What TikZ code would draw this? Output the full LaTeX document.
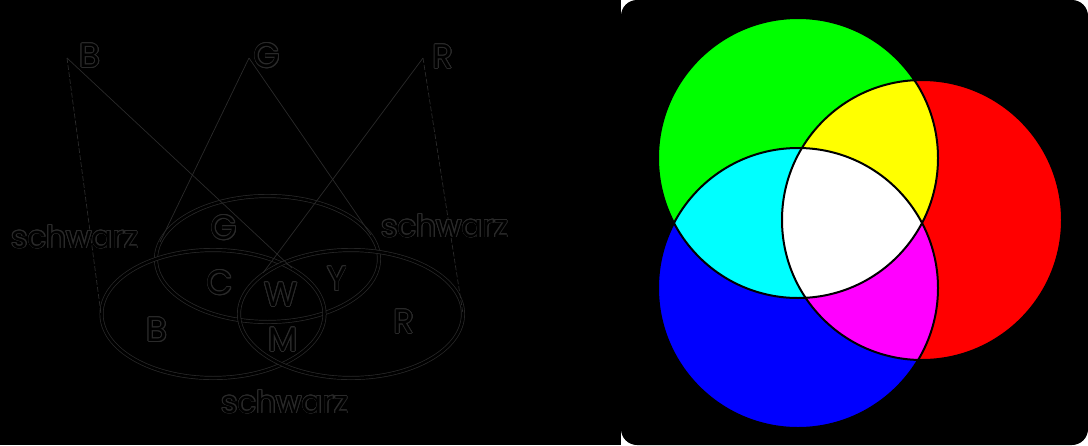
\documentclass[tikz,border=0pt]{standalone}
\usepackage{fontspec}
\setmainfont{Poppins}
\usepackage{contour}
\contourlength{0.7pt}
\usetikzlibrary{positioning}
\definecolor{rimgray}{HTML}{2A2A2A}
\definecolor{pgreen}{RGB}{0,255,0}
\definecolor{pblue}{RGB}{0,0,255}
\definecolor{pred}{RGB}{255,0,0}
\definecolor{pcyan}{RGB}{0,255,255}
\definecolor{pyellow}{RGB}{255,255,0}
\definecolor{pmagenta}{RGB}{255,0,255}

\begin{document}
\begin{tikzpicture}[x=1pt, y=-1pt,
    ray/.style={draw=rimgray, line width=0.7pt},
    farray/.style={ray, dash pattern=on 5pt off 2pt},
    spot/.style={draw=rimgray, line width=0.7pt, double=black, double distance=2.6pt},
    letter/.style={font=\fontsize{34}{34}\selectfont, inner sep=0pt},
    word/.style={font=\fontsize{31}{31}\selectfont, inner sep=0pt, anchor=base},
    ring/.style={draw=black, line width=2pt}
]
    \useasboundingbox (0,0) rectangle (1088,445);
    \fill[black] (0,0) rectangle (1088,445);

    % Left: light sources
    \coordinate (srcB) at (67,58);
    \coordinate (srcG) at (249,58);
    \coordinate (srcR) at (423,58);
    \node[letter] (labB) at (90,56) {\contour{rimgray}{B}};
    \node[letter] (labG) at (267,56) {\contour{rimgray}{G}};
    \node[letter] (labR) at (443,57) {\contour{rimgray}{R}};

    % Spots on the wall
    \draw[spot] (267.5,259) ellipse [x radius=111.5, y radius=63];
    \draw[spot] (213,314) ellipse [x radius=111.5, y radius=64];
    \draw[spot] (351,314) ellipse [x radius=112, y radius=64];

    % Rays
    \coordinate (bLeft) at (101,314);
    \coordinate (bHit) at (292,268);
    \coordinate (gLeft) at (160,242);
    \coordinate (gRight) at (371,235);
    \coordinate (rHit) at (263,273);
    \coordinate (rRight) at (463,314);
    \draw[farray] (srcB) -- (bLeft);
    \draw[ray] (srcB) -- (bHit);
    \draw[ray] (srcG) -- (gLeft);
    \draw[ray] (srcG) -- (gRight);
    \draw[ray] (srcR) -- (rHit);
    \draw[farray] (srcR) -- (rRight);

    % Region letters
    \node[letter] (inG) at (224,228) {\contour{rimgray}{G}};
    \node[letter] (inC) at (220,283) {\contour{rimgray}{C}};
    \node[letter] (inW) at (281,295) {\contour{rimgray}{W}};
    \node[letter] (inY) at (337,279) {\contour{rimgray}{Y}};
    \node[letter] (inB) at (157,330) {\contour{rimgray}{B}};
    \node[letter] (inM) at (283,340) {\contour{rimgray}{M}};
    \node[letter] (inR) at (404,322) {\contour{rimgray}{R}};
    \node[word] (blackL) at (75,248) {\contour{rimgray}{schwarz}};
    \node[word] (blackR) at (445,237) {\contour{rimgray}{schwarz}};
    \node[word] (blackB) at (285,413) {\contour{rimgray}{schwarz}};

    % Right: additive mixing
    \fill[white] (621,0) rectangle (1088,445);
    \fill[black, rounded corners=16pt] (621,0) rectangle (1088,445);
    \fill[pgreen] (798,158) circle [radius=140];
    \fill[pblue] (798,288) circle [radius=140];
    \fill[pred] (922,220) circle [radius=140];
    \begin{scope}
        \clip (798,158) circle [radius=140];
        \fill[pcyan] (798,288) circle [radius=140];
        \fill[pyellow] (922,220) circle [radius=140];
    \end{scope}
    \begin{scope}
        \clip (798,288) circle [radius=140];
        \fill[pmagenta] (922,220) circle [radius=140];
        \clip (798,158) circle [radius=140];
        \fill[white] (922,220) circle [radius=140];
    \end{scope}
    \draw[ring] (798,158) circle [radius=140];
    \draw[ring] (798,288) circle [radius=140];
    \draw[ring] (922,220) circle [radius=140];
\end{tikzpicture}
\end{document}
